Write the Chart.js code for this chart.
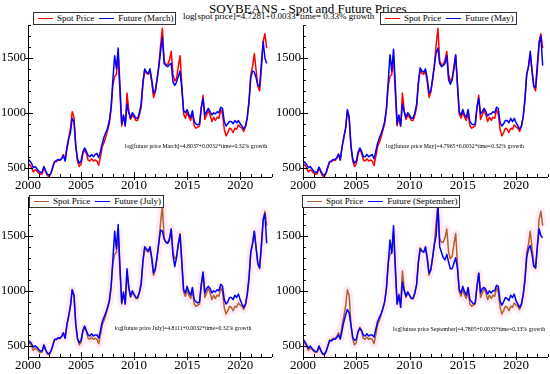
<!DOCTYPE html>
<html>
<head>
<meta charset="utf-8">
<script src="https://cdn.jsdelivr.net/npm/chart.js@4.4.1/dist/chart.umd.min.js"></script>
<style>
  body { margin: 0; width: 550px; height: 374px; background: #fff; position: relative; overflow: hidden; font-family: "Liberation Serif", "Times New Roman", serif; }
  canvas { position: absolute; left: 0; top: 0; }
  .txt { position: absolute; white-space: nowrap; color: #000; line-height: 1; }
  .legend { position: absolute; box-sizing: border-box; border: 1px solid #333; background: #fff; font-size: 9px; line-height: 1; display: flex; align-items: center; padding: 0 2px 0 4px; white-space: nowrap; height: 13px; }
  .legend .ln { display: inline-block; width: 15px; height: 1.5px; margin-right: 4px; }
  .legend .it { display: flex; align-items: center; margin-right: 5px; }
  .legend .it:last-child { margin-right: 0; }
</style>
</head>
<body>
<div class="txt" style="left:209px;top:2px;font-size:13px;">SOYBEANS - Spot and Future Prices</div>
<div class="txt" style="left:183px;top:12px;font-size:9px;">log[spot price]=4.7281+0.0033*time= 0.33% growth</div>

<script>
// bimonthly readings (Jan, Mar, May, Jul, Sep, Nov), 2000 to mid 2022
const spot = [
  510, 530, 500, 460, 480, 470,
  450, 440, 445, 500, 460, 425,
  420, 450, 500, 555, 555, 570,
  565, 585, 620, 570, 690, 770,
  860, 1010, 960, 700, 560, 510,
  530, 620, 670, 630, 570, 560,
  580, 560, 570, 560, 520, 600,
  690, 730, 780, 840, 900, 1030,
  1250, 1330, 1350, 1520, 1180, 880,
  970, 880, 1180, 1020, 940, 980,
  960, 930, 930, 980, 1050, 1260,
  1390, 1360, 1350, 1380, 1280, 1140,
  1190, 1300, 1430, 1620, 1770, 1470,
  1440, 1440, 1480, 1560, 1350, 1290,
  1310, 1420, 1520, 1250, 990, 950,
  1010, 960, 930, 1000, 880, 860,
  870, 880, 1040, 1160, 940, 980,
  1020, 980, 920, 960, 930, 960,
  950, 1030, 990, 850, 790, 820,
  860, 850, 820, 860, 850, 890,
  870, 860, 830, 870, 960, 1110,
  1350, 1420, 1540, 1390, 1240, 1200,
  1400, 1650, 1720, 1590
];
const futMarch = [
  580, 560, 540, 500, 510, 490,
  470, 455, 460, 510, 470, 440,
  430, 450, 510, 555, 565, 575,
  570, 580, 610, 560, 670, 760,
  820, 950, 920, 700, 580, 540,
  560, 640, 680, 650, 610, 600,
  620, 600, 620, 630, 590, 650,
  720, 780, 820, 860, 930, 1050,
  1300, 1520, 1400, 1590, 1250, 900,
  980, 880, 1080, 1000, 950, 1000,
  980, 950, 950, 1000, 1080, 1280,
  1400, 1370, 1360, 1400, 1300, 1180,
  1200, 1310, 1420, 1560, 1690, 1450,
  1430, 1420, 1440, 1450, 1280, 1250,
  1280, 1330, 1380, 1220, 1020, 1000,
  1030, 980, 960, 1020, 920, 900,
  890, 900, 1050, 1130, 980, 1010,
  1040, 1010, 980, 1000, 990, 1010,
  1000, 1050, 1040, 920, 880, 900,
  920, 920, 900, 930, 910, 930,
  900, 880, 850, 880, 950, 1100,
  1320, 1380, 1370, 1320, 1250, 1240,
  1450, 1650, 1500, 1450
];
const futMay = [
  560, 550, 530, 500, 510, 490,
  470, 455, 460, 505, 470, 440,
  430, 455, 510, 555, 560, 575,
  575, 590, 625, 570, 690, 780,
  860, 1030, 960, 700, 580, 540,
  560, 640, 680, 650, 600, 600,
  620, 600, 610, 620, 580, 650,
  720, 770, 810, 860, 920, 1040,
  1280, 1530, 1380, 1580, 1250, 900,
  980, 880, 1080, 1010, 960, 1000,
  980, 950, 950, 1000, 1080, 1280,
  1410, 1380, 1370, 1400, 1310, 1180,
  1200, 1310, 1430, 1550, 1590, 1450,
  1420, 1430, 1450, 1520, 1300, 1260,
  1300, 1400, 1530, 1260, 1010, 980,
  1030, 980, 960, 1030, 920, 900,
  890, 900, 1060, 1130, 990, 1010,
  1040, 1010, 970, 990, 990, 1010,
  1000, 1050, 1040, 910, 880, 900,
  930, 930, 910, 950, 920, 950,
  910, 880, 850, 880, 960, 1120,
  1350, 1420, 1560, 1380, 1240, 1230,
  1440, 1630, 1700, 1430
];
const futJuly = [
  550, 540, 520, 490, 500, 490,
  470, 455, 455, 510, 465, 435,
  430, 455, 505, 560, 560, 575,
  570, 585, 620, 570, 690, 770,
  860, 1010, 960, 700, 570, 530,
  550, 640, 680, 640, 600, 590,
  610, 590, 600, 600, 570, 640,
  720, 760, 800, 850, 910, 1040,
  1280, 1540, 1380, 1600, 1220, 890,
  990, 880, 1200, 1030, 950, 1000,
  970, 940, 940, 990, 1070, 1270,
  1400, 1380, 1360, 1400, 1300, 1160,
  1200, 1310, 1440, 1550, 1540, 1470,
  1440, 1430, 1460, 1560, 1320, 1220,
  1300, 1420, 1510, 1260, 1010, 980,
  1040, 990, 960, 1030, 920, 900,
  890, 900, 1060, 1170, 980, 1020,
  1040, 1020, 980, 1000, 990, 1010,
  1000, 1060, 1040, 920, 880, 900,
  940, 940, 920, 960, 940, 970,
  920, 880, 850, 880, 970, 1120,
  1350, 1430, 1540, 1390, 1250, 1210,
  1410, 1640, 1700, 1430
];
const futSept = [
  560, 540, 510, 480, 500, 480,
  460, 450, 450, 500, 460, 430,
  425, 450, 500, 550, 545, 560,
  560, 575, 600, 560, 640, 720,
  780, 830, 800, 690, 580, 550,
  560, 630, 660, 640, 600, 590,
  610, 590, 600, 600, 580, 650,
  720, 760, 790, 840, 900, 1020,
  1250, 1460, 1340, 1590, 1230, 880,
  960, 850, 1080, 1000, 950, 990,
  960, 930, 930, 980, 1060, 1260,
  1380, 1360, 1350, 1400, 1300, 1160,
  1190, 1300, 1420, 1500, 1780, 1400,
  1350, 1300, 1280, 1330, 1260, 1200,
  1200, 1250, 1300, 1200, 1010, 980,
  1040, 990, 960, 1030, 920, 900,
  880, 890, 1040, 1160, 980, 1020,
  1030, 1010, 970, 1000, 980, 1000,
  1000, 1050, 1040, 910, 870, 900,
  940, 930, 910, 960, 940, 970,
  910, 880, 850, 880, 960, 1090,
  1300, 1380, 1410, 1330, 1220, 1210,
  1400, 1560, 1500, 1480
];
const xTicks = [2000, 2005, 2010, 2015, 2020];
const yTicks = [500, 1000, 1500];

const times = [];
for (let i = 0; i < spot.length; i++) times.push(2000 + i / 6);

function pts(values) {
  return values.map(function (v, i) { return { x: times[i], y: v }; });
}

const panels = [
  { left: 28, right: 272, top: 25, bottom: 177, yMin: 415, yMax: 1800, spotColor: "#ff0000", label: "Future (March)", data: futMarch,
    legend: { x: 33, y: 12 }, note: { x: 196, y: 147, text: "log[future price March]=4.8037+0.0032*time=0.32% growth" } },
  { left: 303, right: 548, top: 25, bottom: 177, yMin: 415, yMax: 1800, spotColor: "#ff0000", label: "Future (May)", data: futMay,
    legend: { x: 380, y: 12 }, note: { x: 455, y: 147, text: "log[future price May]=4.7965+0.0032*time=0.32% growth" } },
  { left: 28, right: 272, top: 197, bottom: 357, yMin: 400, yMax: 1850, spotColor: "#b4602a", label: "Future (July)", data: futJuly, pink: true,
    legend: { x: 29, y: 195 }, note: { x: 183, y: 329, text: "log[future price July]=4.8111+0.0032*time=0.32% growth" } },
  { left: 303, right: 548, top: 197, bottom: 357, yMin: 400, yMax: 1850, spotColor: "#b4602a", label: "Future (September)", data: futSept, pink: true,
    legend: { x: 302, y: 195 }, note: { x: 469, y: 330, text: "log[future price September]=4.7805+0.0033*time=0.33% growth" } }
];

const axesPlugin = {
  id: "axes",
  afterDatasetsDraw(chart) {
    const ctx = chart.ctx;
    const a = chart.chartArea;
    const xs = chart.scales.x, ys = chart.scales.y;
    ctx.save();
    ctx.strokeStyle = "#000";
    ctx.lineWidth = 1;
    ctx.beginPath();
    ctx.moveTo(a.left + 0.5, a.top);
    ctx.lineTo(a.left + 0.5, a.bottom + 0.5);
    ctx.lineTo(a.right, a.bottom + 0.5);
    for (let yr = 2000; yr <= xs.max; yr++) {
      const px = Math.round(xs.getPixelForValue(yr)) + 0.5;
      const major = yr % 5 === 0;
      ctx.moveTo(px, a.bottom + (major ? 3 : 0));
      ctx.lineTo(px, a.bottom - (major ? 5 : 3));
    }
    for (let v = Math.ceil(ys.min / 100) * 100; v <= ys.max; v += 100) {
      const py = Math.round(ys.getPixelForValue(v)) + 0.5;
      const major = v % 500 === 0;
      ctx.moveTo(a.left - (major ? 3 : 0), py);
      ctx.lineTo(a.left + (major ? 5 : 3), py);
    }
    ctx.stroke();
    ctx.restore();
  }
};

panels.forEach(function (p) {
  const canvas = document.createElement("canvas");
  canvas.width = 550;
  canvas.height = 374;
  document.body.appendChild(canvas);

  const datasets = [];
  if (p.pink) {
    datasets.push({ label: "", data: pts(spot), borderColor: "rgba(255, 222, 238, 0.6)", borderWidth: 8, order: 3, pink: true });
  }
  datasets.push({ label: "Spot Price", data: pts(spot), borderColor: p.spotColor, borderWidth: 1.5, order: 2 });
  datasets.push({ label: p.label, data: pts(p.data), borderColor: "#0000ff", borderWidth: 1.5, order: 1 });

  const chart = new Chart(canvas, {
    type: "line",
    data: { datasets },
    options: {
      responsive: false,
      animation: false,
      layout: { padding: { top: p.top, right: 550 - p.right, left: 0, bottom: 0 } },
      plugins: { legend: { display: false }, tooltip: { enabled: false } },
      elements: { point: { radius: 0 }, line: { tension: 0, borderJoinStyle: "round" } },
      scales: {
        x: {
          type: "linear", min: 2000, max: 2023,
          grid: { display: false, drawTicks: false },
          border: { display: false },
          afterBuildTicks: function (s) { s.ticks = xTicks.map(function (v) { return { value: v }; }); },
          ticks: { padding: 1, color: "#000", font: { family: "Liberation Serif", size: 13 }, maxRotation: 0, autoSkip: false, callback: function (v) { return String(v); } },
          afterFit: function (s) { s.height = 374 - p.bottom; }
        },
        y: {
          min: p.yMin, max: p.yMax,
          grid: { display: false, drawTicks: false },
          border: { display: false },
          afterBuildTicks: function (s) { s.ticks = yTicks.map(function (v) { return { value: v }; }); },
          ticks: { padding: 2, color: "#000", font: { family: "Liberation Serif", size: 12.5 }, callback: function (v) { return String(v); } },
          afterFit: function (s) { s.width = p.left; }
        }
      }
    },
    plugins: [axesPlugin]
  });

  // legend box from the chart's own datasets
  const lg = document.createElement("div");
  lg.className = "legend";
  lg.style.left = p.legend.x + "px";
  lg.style.top = p.legend.y + "px";
  chart.data.datasets.forEach(function (ds) {
    if (ds.pink) return;
    const it = document.createElement("span");
    it.className = "it";
    it.innerHTML = '<span class="ln" style="background:' + ds.borderColor + '"></span>' + ds.label;
    lg.appendChild(it);
  });
  document.body.appendChild(lg);

  const note = document.createElement("div");
  note.className = "txt";
  note.style.fontSize = "5.8px";
  note.style.left = p.note.x + "px";
  note.style.top = p.note.y + "px";
  note.style.transform = "translate(-50%, -50%)";
  note.textContent = p.note.text;
  document.body.appendChild(note);
});
</script>
</body>
</html>
